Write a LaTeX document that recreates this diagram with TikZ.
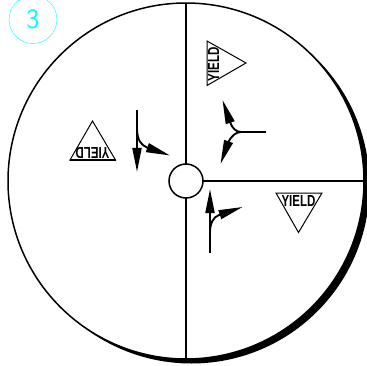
\documentclass[tikz,border=0pt]{standalone}
\usepackage{fontspec}
\setmainfont{Liberation Sans}
\usetikzlibrary{arrows.meta}
\definecolor{numcyan}{RGB}{0,255,255}
\newcommand{\yieldword}{\scalebox{.72}[1]{YIELD}}

\begin{document}
\begin{tikzpicture}[x=1pt,y=-1pt,
    ring/.style={draw,circle,inner sep=0pt,outer sep=0pt,line width=1.5pt,fill=white},
    lane/.style={line width=1.9pt,-{Triangle[length=24pt,width=9pt]}},
    spoke/.style={line width=1.6pt},
    sign/.style={draw,line width=1pt,line join=miter},
    yieldtext/.style={inner sep=0pt,font=\fontsize{16}{16}\selectfont\bfseries}]
  \useasboundingbox (0,0) rectangle (366,366);
  \fill (191.5,185.5) circle (178);
  \node[ring,minimum size=356pt] (rim) at (186,181) {};
  \node[ring,minimum size=34pt] (hub) at (186,181) {};
  \draw[spoke] (hub.north) -- (rim.north);
  \draw[spoke] (hub.south) -- (rim.south);
  \draw[spoke] (hub.east) -- (rim.east);
  \node[draw=numcyan,circle,minimum size=48pt,inner sep=0pt,text=numcyan,font=\fontsize{28}{28}\sffamily] (num) at (33,19.5) {3};

  \draw[sign] (70,160) -- (92.5,121) -- (115.5,160) -- cycle;
  \draw[line width=1.5pt] (70,160) -- (115.5,160);
  \node[yieldtext,rotate=180] (yieldW) at (92.5,153.5) {\yieldword};
  \draw[sign] (207,41) -- (246,63) -- (207,85.5) -- cycle;
  \node[yieldtext,rotate=90] (yieldN) at (213.5,64.5) {\yieldword};
  \draw[sign] (276,193) -- (322,193) -- (298.5,232.5) -- cycle;
  \node[yieldtext] (yieldE) at (298.5,200.5) {\yieldword};

  \coordinate (wTop) at (137,110);
  \coordinate (wTurn) at (137,130);
  \coordinate (wBend) at (147,147.5);
  \coordinate (wStraight) at (137,172);
  \coordinate (wRight) at (170,155.5);
  \draw[lane] (wTop) -- (wStraight);
  \draw[lane] (wTurn) .. controls (137.5,140) and (141,145) .. (wBend) -- (wRight);

  \coordinate (nEnd) at (266,132);
  \coordinate (nFork) at (241,132);
  \coordinate (nBendL) at (230,122);
  \coordinate (nBendR) at (228,143);
  \coordinate (nLeft) at (222.5,100);
  \coordinate (nRight) at (220.5,164);
  \draw[line width=1.9pt] (nEnd) -- (nFork);
  \draw[lane] (nFork) .. controls (236,132) and (232,128) .. (nBendL) -- (nLeft);
  \draw[lane] (nFork) .. controls (236,132) and (231,136) .. (nBendR) -- (nRight);

  \coordinate (sEnd) at (210,253);
  \coordinate (sTurn) at (210,232);
  \coordinate (sBend) at (219,215);
  \coordinate (sStraight) at (210,189);
  \coordinate (sRight) at (242.5,207);
  \draw[lane] (sEnd) -- (sStraight);
  \draw[lane] (sTurn) .. controls (210,224) and (213,217) .. (sBend) -- (sRight);
\end{tikzpicture}
\end{document}
